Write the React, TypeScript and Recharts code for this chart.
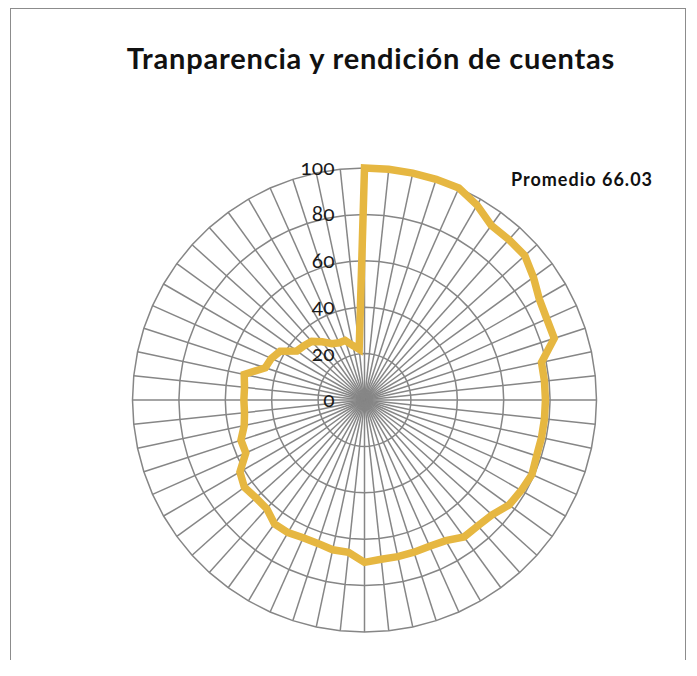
import { PolarAngleAxis, PolarGrid, PolarRadiusAxis, Radar, RadarChart } from "recharts";

// 60 ejes, en sentido horario desde arriba
const categories = [
  "1", "2", "3", "4", "5", "6", "7", "8", "9", "10",
  "11", "12", "13", "14", "15", "16", "17", "18", "19", "20",
  "21", "22", "23", "24", "25", "26", "27", "28", "29", "30",
  "31", "32", "33", "34", "35", "36", "37", "38", "39", "40",
  "41", "42", "43", "44", "45", "46", "47", "48", "49", "50",
  "51", "52", "53", "54", "55", "56", "57", "58", "59", "60",
];

const valores = [
  100, 100, 100, 100, 100, 97, 93, 93, 93, 90,
  87, 86, 86, 78, 78, 78, 78, 78, 78, 79,
  78, 77, 74, 73, 73, 70, 69, 69, 69, 69,
  70, 66, 66, 65, 65, 66, 66, 63, 63, 64,
  62, 56, 56, 53, 52, 52, 52, 53, 45, 44,
  42, 36, 35, 34, 31, 28, 27, 27, 24, 22,
];

const radiusTicks = [0, 20, 40, 60, 80, 100];

const titulo = "Tranparencia y rendición de cuentas";
const promedio = "Promedio 66.03";

const data = categories.map((c, i) => ({ cat: c, valor: valores[i] }));

const FONT = "Lato, 'Open Sans', sans-serif";

function RadiusTick(props: any) {
  const { x, y, payload } = props;
  return (
    <text
      x={x - 30}
      y={y}
      dy={7}
      textAnchor="end"
      fontSize={21}
      fill="#1a1a1a"
      style={{ fontFamily: FONT, fontVariantNumeric: "oldstyle-nums" }}
    >
      {payload.value}
    </text>
  );
}

export default function App() {
  return (
    <div style={{ position: "relative", width: 681, height: 660, fontFamily: FONT }}>
      <div
        style={{
          position: "absolute",
          left: 2,
          top: 0,
          width: 676,
          height: 652,
          borderTop: "1px solid #8c8c8c",
          borderLeft: "1px solid #8c8c8c",
          borderRight: "1px solid #8c8c8c",
          boxSizing: "border-box",
        }}
      />
      <div
        style={{
          position: "absolute",
          left: 0,
          width: 726,
          top: 32,
          textAlign: "center",
          fontSize: 29,
          letterSpacing: 0.8,
          fontWeight: 700,
          color: "#111",
          whiteSpace: "nowrap",
        }}
      >
        {titulo}
      </div>
      <div
        style={{
          position: "absolute",
          left: 503,
          top: 160,
          fontSize: 18,
          letterSpacing: 1,
          fontWeight: 700,
          color: "#111",
          whiteSpace: "nowrap",
        }}
      >
        {promedio}
      </div>
      <div style={{ position: "absolute", left: 0, top: 0 }}>
        <RadarChart
          width={681}
          height={660}
          data={data}
          cx={356.5}
          cy={392}
          outerRadius={232}
          startAngle={90}
          endAngle={-270}
          margin={{ top: 0, right: 0, bottom: 0, left: 0 }}
        >
          <PolarGrid gridType="polygon" stroke="#868686" strokeWidth={1.5} strokeOpacity={1} />
          <PolarAngleAxis dataKey="cat" tick={false} axisLine={false} tickLine={false} />
          <PolarRadiusAxis
            angle={90}
            domain={[0, 100]}
            ticks={radiusTicks as any}
            tickCount={6}
            axisLine={false}
            tickLine={false}
            tick={<RadiusTick />}
          />
          <Radar
            dataKey="valor"
            stroke="#E6B741"
            strokeWidth={7.5}
            fill="none"
            fillOpacity={0}
            dot={false}
            isAnimationActive={false}
            strokeLinejoin="miter"
          />
        </RadarChart>
      </div>
    </div>
  );
}
